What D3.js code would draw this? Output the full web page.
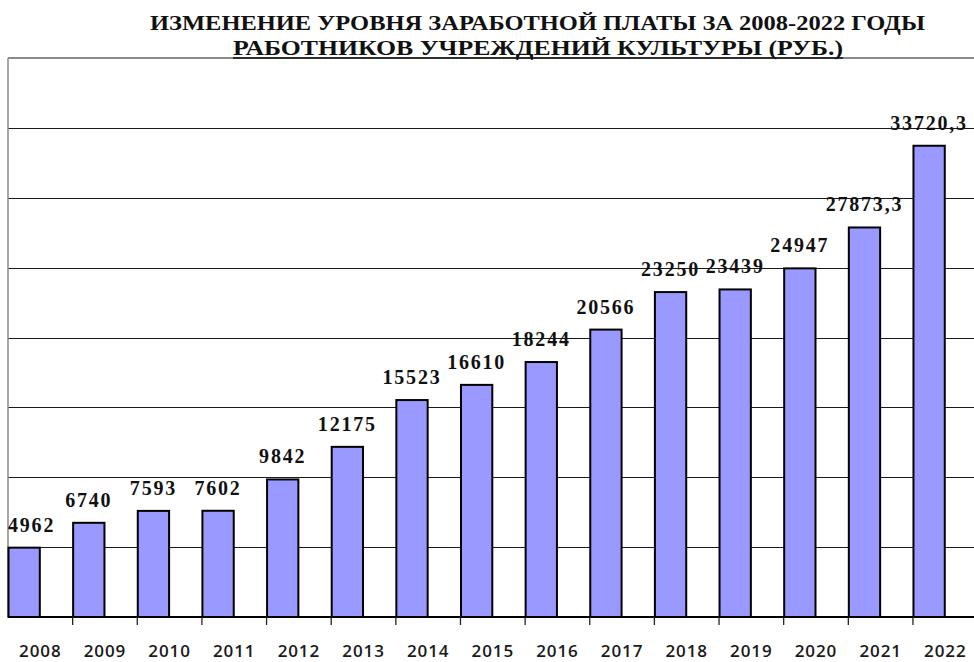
<!DOCTYPE html>
<html><head><meta charset="utf-8">
<script src="https://cdn.jsdelivr.net/npm/d3@7"></script>
<style>html,body{margin:0;padding:0;background:#fff;overflow:hidden}</style>
</head><body>
<svg id="chart" width="974" height="662"></svg>
<script>
const years = ["2008","2009","2010","2011","2012","2013","2014","2015","2016","2017","2018","2019","2020","2021","2022"];
const salaries = [4962, 6740, 7593, 7602, 9842, 12175, 15523, 16610, 18244, 20566, 23250, 23439, 24947, 27873.3, 33720.3];
const gridValues = [5000, 10000, 15000, 20000, 25000, 30000, 35000];
const titleLines = ["ИЗМЕНЕНИЕ УРОВНЯ ЗАРАБОТНОЙ ПЛАТЫ ЗА 2008-2022 ГОДЫ", "РАБОТНИКОВ УЧРЕЖДЕНИЙ КУЛЬТУРЫ (РУБ.)"];

(function () {
const svg = d3.select("#chart");
const plotL = 8, plotT = 58, plotB = 617, step = 64.64;
const x = d3.scaleBand().domain(years).range([plotL, plotL + step * years.length]).paddingInner(0).paddingOuter(0);
const y = d3.scaleLinear().domain([0, 40000]).range([plotB, plotT]);

// gridlines
svg.append("g").selectAll("line").data(gridValues).join("line")
  .attr("x1", plotL).attr("x2", 974)
  .attr("y1", d => Math.round(y(d)) + 0.5).attr("y2", d => Math.round(y(d)) + 0.5)
  .attr("stroke", "#1a1a1a").attr("stroke-width", 1.2);

// frame top & left
svg.append("line").attr("x1", plotL).attr("x2", 974).attr("y1", plotT).attr("y2", plotT)
  .attr("stroke", "#8a8a8a").attr("stroke-width", 2);
svg.append("line").attr("x1", plotL).attr("x2", plotL).attr("y1", plotT).attr("y2", plotB)
  .attr("stroke", "#8a8a8a").attr("stroke-width", 1.5);

// bars
svg.append("g").selectAll("rect").data(years).join("rect")
  .attr("x", (d) => x(d) + 0.5)
  .attr("width", x.bandwidth() * 0.5 - 1)
  .attr("y", (d, i) => y(salaries[i]))
  .attr("height", (d, i) => plotB - y(salaries[i]))
  .attr("fill", "#9999FF").attr("stroke", "#000").attr("stroke-width", 2);

// x axis baseline and ticks
svg.append("line").attr("x1", plotL).attr("x2", 974).attr("y1", plotB).attr("y2", plotB)
  .attr("stroke", "#000").attr("stroke-width", 2);
svg.append("g").selectAll("line").data(years.slice(1)).join("line")
  .attr("x1", d => x(d)).attr("x2", d => x(d))
  .attr("y1", plotB).attr("y2", plotB + 8)
  .attr("stroke", "#222").attr("stroke-width", 1.3);

// x labels
svg.append("g").selectAll("text").data(years).join("text")
  .attr("x", d => x(d) + x.bandwidth() / 2)
  .attr("y", 657)
  .attr("text-anchor", "middle")
  .attr("font-family", "'Open Sans', sans-serif")
  .attr("font-weight", 600)
  .attr("font-size", 17)
  .attr("letter-spacing", 0.9)
  .attr("fill", "#1a1a1a")
  .text(d => d);

// value labels
const fmt = v => Number.isInteger(v) ? String(v) : String(v).replace(".", ",");
const vl = svg.append("g").selectAll("text").data(years).join("text")
  .attr("y", (d, i) => y(salaries[i]) - 16)
  .attr("text-anchor", "middle")
  .attr("font-family", "'Liberation Serif', 'Times New Roman', serif")
  .attr("font-weight", "bold")
  .attr("font-size", 20)
  .attr("letter-spacing", 1.8)
  .attr("fill", "#111")
  .text((d, i) => fmt(salaries[i]));
vl.each(function(d) {
  const w = this.getComputedTextLength();
  let cx = x(d) + x.bandwidth() * 0.25;
  cx = Math.max(cx, plotL + w / 2);
  cx = Math.min(cx, 972 - w / 2);
  d3.select(this).attr("x", cx);
});

// title
svg.append("text").attr("x", 150).attr("y", 30)
  .attr("font-family", "'Liberation Serif', 'Times New Roman', serif")
  .attr("font-weight", "bold").attr("font-size", 21).attr("fill", "#111")
  .attr("textLength", 775).attr("lengthAdjust", "spacingAndGlyphs")
  .text(titleLines[0]);
svg.append("text").attr("x", 233).attr("y", 55)
  .attr("font-family", "'Liberation Serif', 'Times New Roman', serif")
  .attr("font-weight", "bold").attr("font-size", 21).attr("fill", "#111")
  .attr("textLength", 610).attr("lengthAdjust", "spacingAndGlyphs")
  .text(titleLines[1]);
svg.append("line").attr("x1", 233).attr("x2", 843).attr("y1", 58).attr("y2", 58)
  .attr("stroke", "#111").attr("stroke-width", 1.5);
})();
</script>
</body></html>
